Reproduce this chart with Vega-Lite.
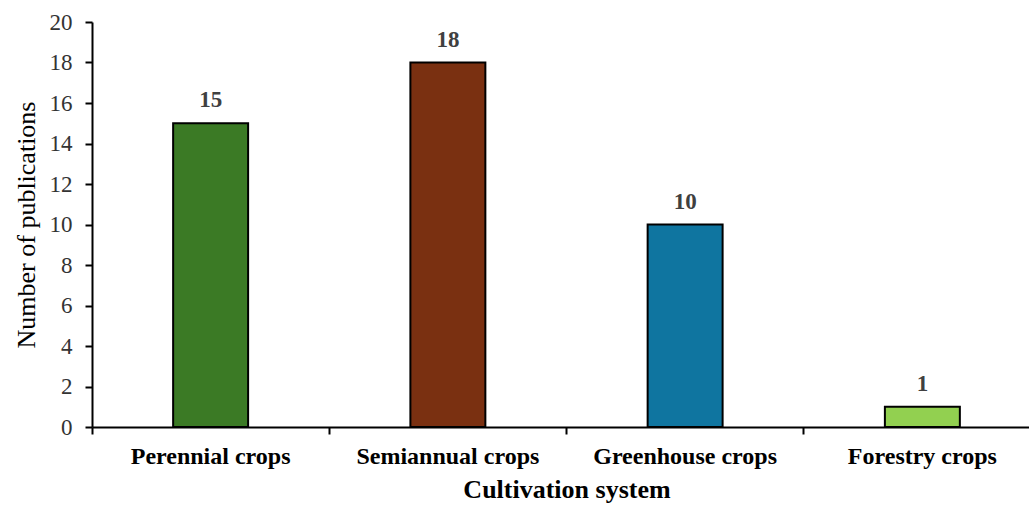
{
  "$schema": "https://vega.github.io/schema/vega-lite/v6.json",
  "width": 937,
  "height": 405,
  "autosize": "none",
  "padding": {"left": 92, "top": 22, "right": 0, "bottom": 79},
  "config": {"view": {"stroke": null}, "font": "Liberation Serif"},
  "data": {
    "values": [
      {"system": "Perennial crops", "count": 15},
      {"system": "Semiannual crops", "count": 18},
      {"system": "Greenhouse crops", "count": 10},
      {"system": "Forestry crops", "count": 1}
    ]
  },
  "layer": [
    {
      "mark": {"type": "bar", "stroke": "black", "strokeWidth": 2, "width": {"band": 0.316}},
      "encoding": {
        "x": {
          "field": "system", "type": "nominal", "sort": null,
          "scale": {"range": [0, 949], "paddingInner": 0, "paddingOuter": 0},
          "axis": {
            "orient": "bottom", "bandPosition": 0, "labels": false, "title": null,
            "domainColor": "black", "domainWidth": 2, "tickColor": "black", "tickWidth": 2, "tickSize": 7
          }
        },
        "y": {
          "field": "count", "type": "quantitative",
          "scale": {"domain": [0, 20], "nice": false},
          "axis": {
            "values": [0, 2, 4, 6, 8, 10, 12, 14, 16, 18, 20],
            "grid": false, "title": "Number of publications",
            "domainColor": "black", "domainWidth": 2, "tickColor": "black", "tickWidth": 2, "tickSize": 7,
            "labelFontSize": 23, "labelColor": "#333333", "labelPadding": 13,
            "titleFontSize": 26, "titleFontWeight": "normal", "titleColor": "black", "titlePadding": 10
          }
        },
        "color": {
          "field": "system", "type": "nominal", "sort": null, "legend": null,
          "scale": {"range": ["#3B7A25", "#7A3011", "#0F75A0", "#92D050"]}
        }
      }
    },
    {
      "mark": {"type": "text", "dy": -23, "fontSize": 23, "fontWeight": "bold", "color": "#404040"},
      "encoding": {
        "x": {
          "field": "system", "type": "nominal", "sort": null,
          "axis": {
            "orient": "bottom", "ticks": false, "domain": false, "labelAngle": 0, "labelLimit": 0,
            "labelFontSize": 24, "labelFontWeight": "bold", "labelColor": "black", "labelPadding": 17,
            "title": "Cultivation system", "titleFontSize": 26, "titleFontWeight": "bold", "titleColor": "black", "titlePadding": 8
          }
        },
        "y": {"field": "count", "type": "quantitative"},
        "text": {"field": "count", "type": "quantitative"}
      }
    }
  ],
  "resolve": {"axis": {"x": "independent"}}
}
